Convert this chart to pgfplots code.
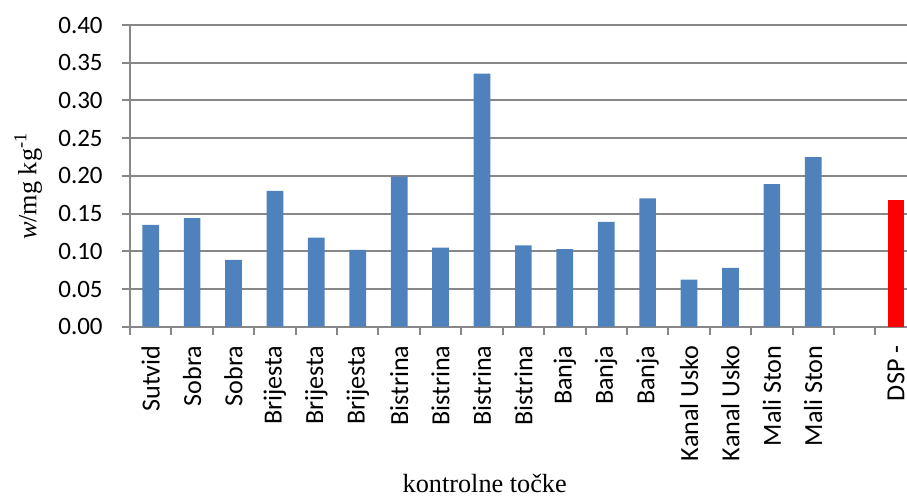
\documentclass[border=0pt]{standalone}
\usepackage{fontspec}
\setmainfont{Carlito}
\newfontfamily\tnr{Liberation Serif}
\usepackage{pgfplots}
\pgfplotsset{compat=1.18}
\definecolor{barblue}{HTML}{4F81BD}
\definecolor{gridgray}{HTML}{878787}

\begin{document}
\begin{tikzpicture}
\begin{axis}[
    at={(0,0)}, anchor=south west,
    scale only axis, width=310.8pt, height=120.68pt,
    xmin=-0.5, xmax=18.264, ymin=0, ymax=0.4,
    axis x line=bottom, axis y line=left,
    axis line style={-, gridgray, line width=0.8pt},
    ymajorgrids, major grid style={gridgray, line width=0.8pt},
    tick align=outside, major tick length=3.2pt,
    tick style={gridgray, line width=0.8pt},
    ytick={0,0.05,0.10,0.15,0.20,0.25,0.30,0.35,0.40},
    yticklabel style={/pgf/number format/.cd, fixed, fixed zerofill, precision=2, assume math mode=true},
    yticklabel shift=4.2pt,
    xtick={-0.5,0.5,...,17.5}, xticklabels={},
    extra x ticks={0,1,...,18},
    extra x tick labels={Sutvid,Sobra,Sobra,Brijesta,Brijesta,Brijesta,Bistrina,Bistrina,Bistrina,Bistrina,Banja,Banja,Banja,Kanal Usko,Kanal Usko,Mali Ston,Mali Ston,,DSP -},
    extra x tick style={major tick length=0pt, xticklabel style={rotate=90, anchor=east, font=\fontsize{10.45}{12}\selectfont}},
    xticklabel shift=4pt,
    xlabel={\tnr kontrolne točke},
    xlabel style={at={(axis description cs:0.4565,-0.521)}, anchor=center, font=\fontsize{10.5}{12}\selectfont},
    ylabel={\tnr \textit{w}/mg kg\textsuperscript{-1}},
    ylabel style={at={(axis description cs:-0.131,0.466)}, anchor=center, rotate=0, font=\fontsize{10.5}{12}\selectfont},
]
\addplot[ybar, bar width=6.68pt, bar shift=0pt, fill=barblue, draw=none] coordinates {
    (0,0.135) (1,0.144) (2,0.0885) (3,0.180) (4,0.118) (5,0.102)
    (6,0.199) (7,0.105) (8,0.3355) (9,0.108) (10,0.103) (11,0.139)
    (12,0.170) (13,0.0625) (14,0.078) (15,0.189) (16,0.225)
};
\addplot[ybar, bar width=6.68pt, bar shift=0pt, fill=red, draw=none] coordinates {
    (18,0.168)
};
\end{axis}
\pgfresetboundingbox
\path (-52pt,-68.12pt) rectangle (310.8pt,130.68pt);
\end{tikzpicture}
\end{document}
